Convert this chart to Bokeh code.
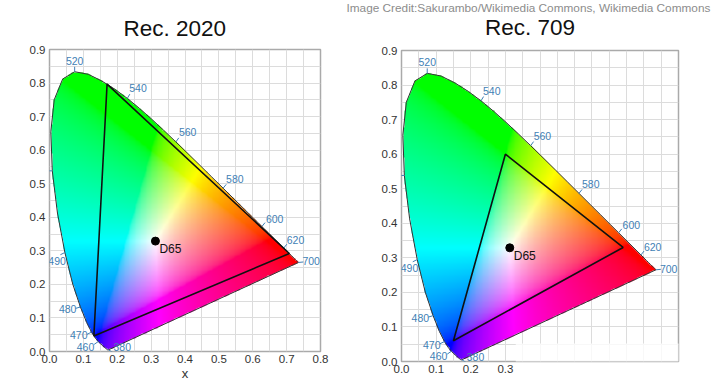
import numpy as np
from bokeh.plotting import figure
from bokeh.layouts import row, column
from bokeh.models import FixedTicker, Label, BoxAnnotation, PrintfTickFormatter, LinearAxis
from bokeh.embed import file_html
from bokeh.resources import INLINE

# CIE 1931 2-degree spectral locus (chromaticity x, y), 5 nm steps
wavelengths = list(range(380, 705, 5))
locus_x = [0.1741, 0.1740, 0.1738, 0.1736, 0.1733, 0.1730, 0.1726, 0.1721, 0.1714, 0.1703,
           0.1689, 0.1669, 0.1644, 0.1611, 0.1566, 0.1510, 0.1440, 0.1355, 0.1241, 0.1096,
           0.0913, 0.0687, 0.0454, 0.0235, 0.0082, 0.0039, 0.0139, 0.0389, 0.0743, 0.1142,
           0.1547, 0.1929, 0.2296, 0.2658, 0.3016, 0.3373, 0.3731, 0.4087, 0.4441, 0.4788,
           0.5125, 0.5448, 0.5752, 0.6029, 0.6270, 0.6482, 0.6658, 0.6801, 0.6915, 0.7006,
           0.7079, 0.7140, 0.7190, 0.7230, 0.7260, 0.7283, 0.7300, 0.7311, 0.7320, 0.7327,
           0.7334, 0.7340, 0.7344, 0.7346, 0.7347]
locus_y = [0.0050, 0.0050, 0.0049, 0.0049, 0.0048, 0.0048, 0.0048, 0.0048, 0.0051, 0.0058,
           0.0069, 0.0086, 0.0109, 0.0138, 0.0177, 0.0227, 0.0297, 0.0399, 0.0578, 0.0868,
           0.1327, 0.2007, 0.2950, 0.4127, 0.5384, 0.6548, 0.7502, 0.8120, 0.8338, 0.8262,
           0.8059, 0.7816, 0.7543, 0.7243, 0.6923, 0.6589, 0.6245, 0.5896, 0.5547, 0.5202,
           0.4866, 0.4544, 0.4242, 0.3965, 0.3725, 0.3514, 0.3340, 0.3197, 0.3083, 0.2993,
           0.2920, 0.2859, 0.2809, 0.2770, 0.2740, 0.2717, 0.2700, 0.2689, 0.2680, 0.2673,
           0.2666, 0.2660, 0.2656, 0.2654, 0.2653]

label_wavelengths = [380, 460, 470, 480, 490, 500, 520, 540, 560, 580, 600, 620, 700]

rec2020_x = [0.708, 0.170, 0.131]
rec2020_y = [0.292, 0.797, 0.046]
rec709_x = [0.640, 0.300, 0.150]
rec709_y = [0.330, 0.600, 0.060]
d65_x = [0.3127]
d65_y = [0.3290]

x_ticks = [0.0, 0.1, 0.2, 0.3, 0.4, 0.5, 0.6, 0.7, 0.8]
y_ticks = [0.0, 0.1, 0.2, 0.3, 0.4, 0.5, 0.6, 0.7, 0.8, 0.9]
x_minor = [0.05, 0.15, 0.25, 0.35, 0.45, 0.55, 0.65, 0.75]
y_minor = [0.05, 0.15, 0.25, 0.35, 0.45, 0.55, 0.65, 0.75, 0.85]

credit_text = "Image Credit:Sakurambo/Wikimedia Commons, Wikimedia Commons"

# label placement styles (pixel offsets, screen-down y, alignment)
label_style = {
    380: (5, -3, "left"), 460: (-4, 5, "right"), 470: (-4, 3, "right"),
    480: (-4, 2, "right"), 490: (1, 8, "right"), 500: (-5, 0, "right"),
    520: (0, -11, "center"), 540: (2, -10, "left"), 560: (3, -10, "left"),
    580: (3, -9, "left"), 600: (4, -8, "left"), 620: (3, -8, "left"),
    700: (4, -1, "left"),
}
tick_dir = {
    380: (1, 0.6), 460: (-1, 0.7), 470: (-1, 0.5), 480: (-1, 0.3), 490: (-1, 0.5),
    500: (-1, 0), 520: (0, -1), 540: (0.6, -1), 560: (0.7, -1), 580: (0.8, -1),
    600: (0.8, -1), 620: (0.8, -1), 700: (1, -0.1),
}

FONT = "Liberation Sans"
BLUE = "#3f7fb5"
TXT = "#333333"

# colour image of the gamut (computed from the locus)
NX, NY = 320, 360
gx = (np.arange(NX) + 0.5) * 0.8 / NX
gy = (np.arange(NY) + 0.5) * 0.9 / NY
GX, GY = np.meshgrid(gx, gy)
vx = np.array(locus_x)
vy = np.array(locus_y)
inside = np.zeros(GX.shape, bool)
j = len(vx) - 1
for i in range(len(vx)):
    xi, yi, xj, yj = vx[i], vy[i], vx[j], vy[j]
    cond = ((yi > GY) != (yj > GY)) & (GX < (xj - xi) * (GY - yi) / (yj - yi + 1e-12) + xi)
    inside ^= cond
    j = i
Yv = np.ones_like(GX)
Xv = GX / GY
Zv = (1 - GX - GY) / GY
R = 3.2406 * Xv - 1.5372 * Yv - 0.4986 * Zv
G = -0.9689 * Xv + 1.8758 * Yv + 0.0415 * Zv
B = 0.0557 * Xv - 0.2040 * Yv + 1.0570 * Zv
rgb = np.clip(np.stack([R, G, B], -1), 0, None)
rgb = rgb / np.maximum(rgb.max(-1, keepdims=True), 1e-9)
rgb = np.where(rgb <= 0.0031308, 12.92 * rgb, 1.055 * np.power(rgb, 1 / 2.4) - 0.055)
arr = np.zeros((NY, NX, 4), dtype=np.uint8)
arr[..., :3] = (np.clip(rgb, 0, 1) * 255).astype(np.uint8)
arr[..., 3] = np.where(inside, 255, 0)
img = arr.view(np.uint32).reshape(NY, NX)


def make_chart(px, py, width, height, mb, kx, ky, hidden_x=()):
    p = figure(width=width, height=height, x_range=(0, 0.8), y_range=(0, 0.9),
               output_backend="svg", toolbar_location=None,
               min_border_left=mb[0], min_border_top=mb[1], min_border_right=mb[2],
               min_border_bottom=mb[3])
    p.background_fill_color = "white"
    p.border_fill_color = "white"
    p.outline_line_color = "#aaaaaa"
    p.outline_line_width = 1.5

    for ax, ticks, minor in ((p.xaxis[0], x_ticks, x_minor), (p.yaxis[0], y_ticks, y_minor)):
        ax.ticker = FixedTicker(ticks=ticks, minor_ticks=minor)
        ax.formatter = PrintfTickFormatter(format="%.1f")
        ax.major_label_text_font = FONT
        ax.major_label_text_font_size = "11.5px"
        ax.major_label_text_color = TXT
        ax.axis_line_color = None
        ax.major_tick_line_color = None
        ax.minor_tick_line_color = None
        ax.major_tick_out = 0
        ax.major_tick_in = 0
        ax.minor_tick_out = 0
        ax.minor_tick_in = 0
    if hidden_x:
        p.xaxis[0].major_label_overrides = {t: "" for t in hidden_x}
    p.xaxis.major_label_standoff = 3
    p.yaxis.major_label_standoff = 4

    for g in (p.xgrid[0], p.ygrid[0]):
        g.grid_line_color = "#dcdcdc"
        g.minor_grid_line_color = "#dcdcdc"
        g.grid_line_width = 1
        g.minor_grid_line_width = 1
    p.xgrid.ticker = FixedTicker(ticks=x_ticks, minor_ticks=x_minor)
    p.ygrid.ticker = FixedTicker(ticks=y_ticks, minor_ticks=y_minor)

    p.image_rgba(image=[img], x=0, y=0, dw=0.8, dh=0.9)
    p.line(locus_x + [locus_x[0]], locus_y + [locus_y[0]], line_color="#333333", line_width=1)

    # wavelength ticks and labels
    lx = [locus_x[wavelengths.index(w)] for w in label_wavelengths]
    ly = [locus_y[wavelengths.index(w)] for w in label_wavelengths]
    x1, y1 = [], []
    for w, a, b in zip(label_wavelengths, lx, ly):
        dx, dy = tick_dir[w]
        n = (dx * dx + dy * dy) ** 0.5
        x1.append(a + 5 * dx / n / kx)
        y1.append(b - 5 * dy / n / ky)
    p.segment(x0=lx, y0=ly, x1=x1, y1=y1, line_color=BLUE, line_width=1)
    for w, a, b in zip(label_wavelengths, lx, ly):
        dx, dy, al = label_style[w]
        p.add_layout(Label(x=a, y=b, text=str(w), x_offset=dx, y_offset=-dy,
                           text_align=al, text_baseline="middle", text_font=FONT,
                           text_font_size="10.5px", text_color=BLUE))

    # gamut triangle
    p.patch(px, py, fill_color=None, line_color="#111111", line_width=1.6)
    # white point
    p.scatter(d65_x, d65_y, size=8, color="black")
    p.add_layout(Label(x=d65_x[0], y=d65_y[0], text="D65", x_offset=4, y_offset=-8,
                       text_align="left", text_baseline="middle", text_font=FONT,
                       text_font_size="12px", text_color="#111111"))
    # axis label y (horizontal, beside the axis)
    p.add_layout(Label(x=0.0001, y=0.458, text="y", x_offset=-21, text_align="center",
                       text_baseline="middle", text_font=FONT, text_font_size="13px",
                       text_color=TXT))
    return p


def style_title(t, size="22.5px", color="#111111"):
    t.text_font = FONT
    t.text_font_size = size
    t.text_font_style = "normal"
    t.text_color = color


# ---- left chart: Rec. 2020 ----
left = make_chart(rec2020_x, rec2020_y, 345, 383, (49, 49, 25, 30), 270 / 0.8, 304 / 0.9)
left.title.text = "Rec. 2020"
style_title(left.title)
left.title.align = "left"
left.title.offset = 74
left.title.standoff = 18
left.xaxis.axis_label = "x"
left.xaxis.axis_label_standoff = 0
left.xaxis.axis_label_text_font = FONT
left.xaxis.axis_label_text_font_size = "13px"
left.xaxis.axis_label_text_font_style = "normal"
left.xaxis.axis_label_text_color = TXT

# ---- right chart: Rec. 709 (title drawn as a top axis label, credit as figure title) ----
right = make_chart(rec709_x, rec709_y, 374, 383, (56, 50, 41, 22), 277 / 0.8, 311 / 0.9,
                   hidden_x=(0.4, 0.5, 0.6, 0.7, 0.8))
right.title.text = credit_text
style_title(right.title, size="11.8px", color="#8c8c8c")
right.title.align = "left"
right.title.offset = -55
right.title.standoff = -6
top_axis = LinearAxis(ticker=FixedTicker(ticks=[0.371]),
                      major_label_overrides={0.371: "Rec. 709"},
                      axis_line_color=None, major_tick_line_color=None,
                      minor_tick_line_color=None, major_tick_out=0, major_tick_in=0,
                      minor_tick_out=0, minor_tick_in=0, major_label_standoff=11,
                      major_label_text_font=FONT, major_label_text_font_size="22.5px",
                      major_label_text_color="#111111")
right.add_layout(top_axis, "above")
right.add_layout(BoxAnnotation(left=0.33, right=0.95, bottom=-0.2, top=0.052,
                               fill_color="white", fill_alpha=0.8, line_color=None))

layout = row(column(left), column(right), spacing=0)
open("out.html", "w").write(file_html(layout, INLINE))
